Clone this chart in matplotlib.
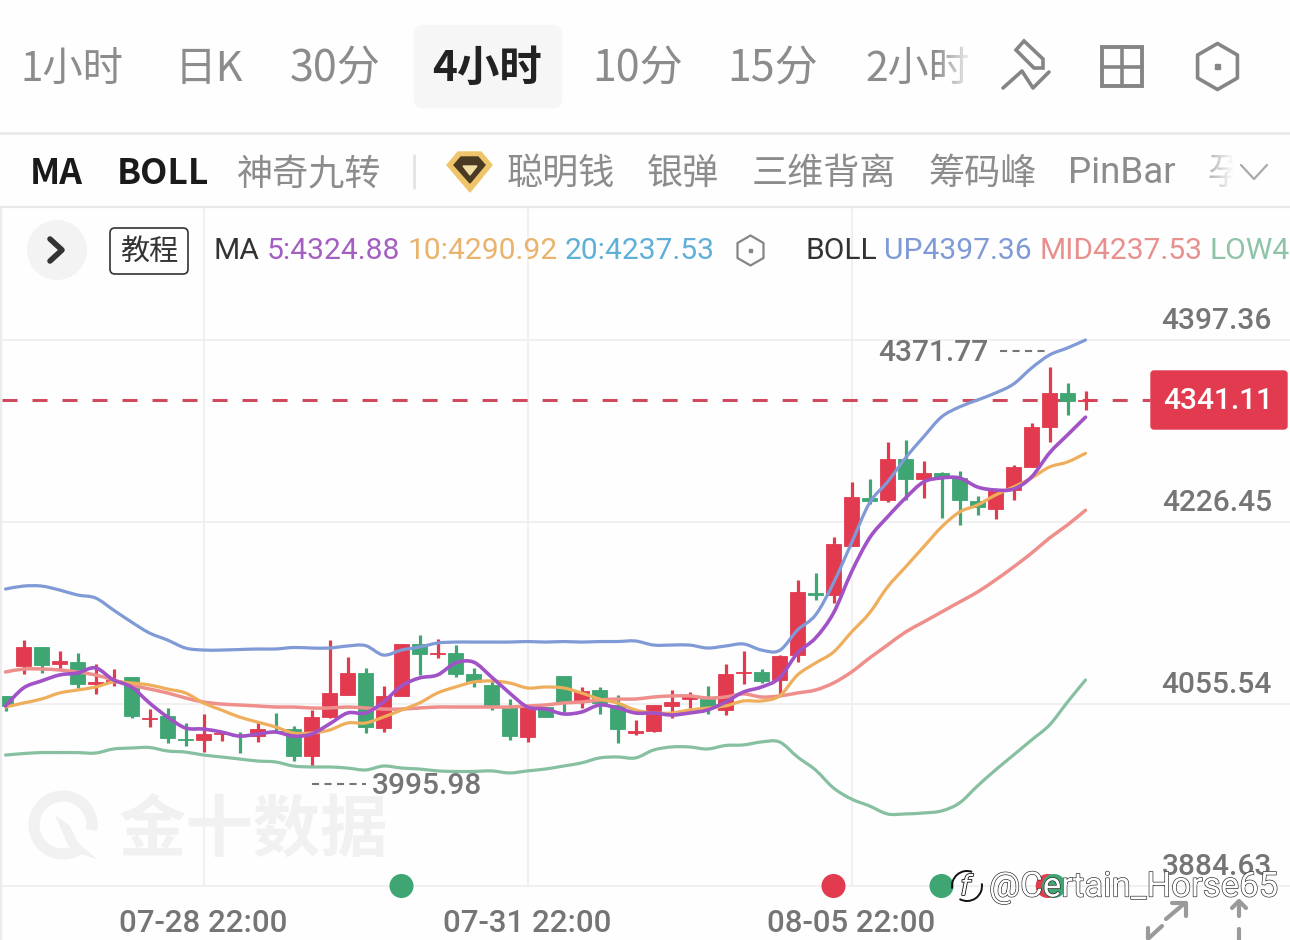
import numpy as np
import matplotlib
matplotlib.use('Agg')
import matplotlib.pyplot as plt
from matplotlib.patches import FancyBboxPatch, Circle, Polygon, Arc, Rectangle, PathPatch
from matplotlib.path import Path
import matplotlib.patheffects as pe

plt.rcParams['font.family'] = ['Noto Sans CJK SC', 'DejaVu Sans']

# candles
open_ = [4063.1, 4091.2, 4109.0, 4093.0, 4094.9, 4074.3, 4076.2, 4080.9, 4041.5, 4044.3,
         4022.6, 4021.7, 4027.3, 4026.4, 4025.4, 4030.1, 4032.0, 4006.7, 4043.3, 4064.0,
         4084.6, 4033.0, 4063.1, 4111.9, 4102.4, 4103.4, 4083.7, 4073.4, 4053.7, 4024.5,
         4052.7, 4081.8, 4057.4, 4068.7, 4054.6, 4028.3, 4030.1, 4053.7, 4060.2, 4060.2,
         4049.9, 4084.6, 4085.6, 4078.1, 4101.5, 4159.8, 4157.9, 4203.9, 4249.0, 4247.1,
         4285.6, 4266.8, 4272.5, 4267.8, 4246.2, 4238.6, 4256.5, 4278.1, 4315.7, 4347.6,
         4340.1]
high = [4063.1, 4115.6, 4109.0, 4105.3, 4103.4, 4093.0, 4088.4, 4080.9, 4050.8, 4051.8,
        4037.7, 4046.2, 4029.2, 4029.2, 4038.6, 4047.1, 4034.9, 4049.9, 4115.6, 4099.7,
        4089.4, 4072.5, 4111.9, 4120.3, 4116.5, 4110.9, 4089.4, 4078.1, 4060.2, 4053.7,
        4052.7, 4081.8, 4071.5, 4071.5, 4064.0, 4040.5, 4054.6, 4068.7, 4066.8, 4072.5,
        4093.0, 4105.3, 4088.4, 4101.5, 4172.0, 4178.5, 4212.3, 4264.0, 4266.9, 4301.6,
        4303.5, 4283.8, 4273.5, 4274.4, 4250.9, 4257.4, 4280.0, 4319.4, 4371.77, 4357.0,
        4349.4]
low = [4049.0, 4083.7, 4084.7, 4088.4, 4070.6, 4065.0, 4072.5, 4042.4, 4034.0, 4018.9,
       4016.1, 4010.4, 4020.8, 4009.5, 4019.8, 4028.3, 4002.0, 3995.98, 4042.4, 4064.0,
       4028.3, 4029.2, 4063.1, 4082.8, 4098.7, 4080.9, 4071.5, 4049.9, 4021.7, 4019.8,
       4043.3, 4048.0, 4051.8, 4046.2, 4018.9, 4026.4, 4029.2, 4042.4, 4051.8, 4046.2,
       4045.2, 4074.3, 4075.3, 4064.0, 4094.9, 4153.2, 4150.4, 4203.9, 4243.4, 4245.2,
       4247.1, 4249.0, 4230.2, 4223.7, 4233.0, 4229.3, 4247.1, 4278.1, 4301.6, 4327.0,
       4331.6]
close = [4053.7, 4109.0, 4092.1, 4095.9, 4074.3, 4076.2, 4078.1, 4044.3, 4042.4, 4023.6,
         4021.7, 4027.3, 4028.3, 4025.4, 4032.0, 4029.2, 4006.7, 4043.3, 4065.9, 4084.6,
         4034.0, 4063.1, 4111.9, 4102.4, 4103.4, 4083.7, 4076.2, 4054.6, 4025.4, 4053.7,
         4043.3, 4057.4, 4067.8, 4056.5, 4032.0, 4030.1, 4054.6, 4057.4, 4062.1, 4051.8,
         4083.7, 4085.6, 4077.2, 4100.6, 4160.7, 4157.9, 4205.8, 4249.9, 4246.2, 4285.6,
         4266.8, 4272.5, 4267.8, 4247.1, 4240.5, 4256.5, 4278.1, 4315.7, 4347.6, 4340.1,
         4341.11]

# indicator lines
boll_up = [4163.5, 4166.3, 4166.3, 4162.6, 4157.9, 4155.1, 4143.8, 4132.5, 4122.2, 4115.6,
           4108.1, 4106.2, 4106.2, 4106.7, 4107.2, 4107.2, 4108.6, 4108.1, 4108.1, 4110.0,
           4110.4, 4101.5, 4106.2, 4109.0, 4112.8, 4113.7, 4113.7, 4113.7, 4113.7, 4114.2,
           4113.7, 4114.2, 4113.7, 4114.2, 4114.2, 4114.7, 4110.9, 4110.9, 4110.9, 4108.1,
           4110.0, 4111.9, 4106.2, 4105.8, 4125.0, 4139.1, 4169.2, 4206.7, 4244.3, 4264.0,
           4286.6, 4306.3, 4325.1, 4334.5, 4341.0, 4347.6, 4356.0, 4371.0, 4383.3, 4389.9,
           4397.36]
boll_mid = [4085.6, 4088.4, 4088.4, 4087.5, 4085.6, 4082.8, 4078.1, 4073.4, 4069.6, 4065.9,
            4061.2, 4057.4, 4055.5, 4054.6, 4053.7, 4052.7, 4052.7, 4051.8, 4051.8, 4052.7,
            4051.8, 4050.8, 4050.8, 4051.8, 4052.7, 4052.7, 4052.7, 4052.7, 4052.7, 4053.7,
            4054.6, 4056.5, 4057.4, 4059.3, 4060.2, 4060.2, 4062.1, 4063.1, 4063.1, 4061.2,
            4062.1, 4065.0, 4062.1, 4063.1, 4065.9, 4068.7, 4075.3, 4085.6, 4098.7, 4110.9,
            4123.1, 4132.5, 4141.9, 4151.3, 4160.7, 4172.0, 4184.2, 4197.2, 4211.4, 4223.7,
            4237.53]
boll_low = [4007.6, 4009.0, 4009.9, 4009.9, 4009.9, 4009.5, 4013.3, 4014.2, 4014.7, 4011.4,
            4010.4, 4007.6, 4005.8, 4003.9, 4002.0, 4001.1, 3997.3, 3996.4, 3996.4, 3995.4,
            3993.6, 3997.3, 3995.4, 3994.5, 3992.7, 3992.2, 3992.2, 3992.7, 3990.8, 3992.7,
            3994.5, 3997.3, 4000.2, 4004.9, 4005.8, 4004.9, 4012.3, 4015.2, 4015.2, 4013.3,
            4016.6, 4017.1, 4019.9, 4019.9, 4005.8, 3993.6, 3976.7, 3966.3, 3959.8, 3952.3,
            3952.3, 3953.2, 3955.1, 3962.6, 3978.6, 3993.6, 4007.6, 4021.7, 4035.8, 4057.4,
            4078.1]
ma5 = [4053.7, 4070.6, 4077.2, 4082.8, 4084.7, 4089.4, 4078.1, 4071.5, 4056.5, 4043.3,
       4033.0, 4032.0, 4029.2, 4025.4, 4027.3, 4029.2, 4025.4, 4027.3, 4036.8, 4047.1,
       4047.1, 4057.4, 4072.5, 4080.0, 4082.8, 4094.0, 4094.9, 4080.9, 4065.9, 4052.7,
       4050.8, 4046.2, 4048.0, 4054.6, 4051.8, 4047.1, 4047.1, 4045.2, 4047.1, 4049.9,
       4057.4, 4066.8, 4071.5, 4080.0, 4103.4, 4117.5, 4141.0, 4179.5, 4211.4, 4231.2,
       4249.0, 4264.0, 4267.8, 4267.8, 4259.3, 4256.5, 4257.4, 4268.7, 4291.3, 4308.2,
       4324.88]
ma10 = [4052.7, 4056.5, 4060.2, 4065.9, 4068.7, 4071.5, 4076.2, 4075.3, 4073.4, 4069.6,
        4065.9, 4056.5, 4049.9, 4043.3, 4038.6, 4034.0, 4028.3, 4028.3, 4031.1, 4037.7,
        4037.7, 4043.3, 4049.9, 4056.5, 4065.9, 4071.5, 4076.2, 4077.2, 4075.3, 4070.6,
        4071.5, 4070.6, 4065.9, 4060.2, 4056.5, 4049.9, 4047.1, 4047.1, 4049.9, 4051.8,
        4053.7, 4058.4, 4058.4, 4063.1, 4082.8, 4094.0, 4104.3, 4123.1, 4141.0, 4165.4,
        4184.2, 4203.0, 4221.7, 4235.8, 4242.4, 4251.8, 4259.3, 4267.8, 4278.1, 4282.8,
        4290.92]

y_ticks = [4397.36, 4226.45, 4055.54, 3884.63]
x_ticks = [11, 29, 47]
x_labels = ['07-28 22:00', '07-31 22:00', '08-05 22:00']
event_x = [22, 46, 52, 57.9, 58.25]
event_up = [False, True, False, True, False]

RED = '#E23B50'
GREEN = '#3FA673'
GRID = '#EEEEEE'
GREY = '#757575'
TAB = '#8C8C8C'
NUM = ['Roboto', 'DejaVu Sans']
UI = ['Roboto', 'Noto Sans CJK SC', 'DejaVu Sans']

fig = plt.figure(figsize=(12.9, 9.4), dpi=100, facecolor='#FEFEFE')

# chart area: one candle every 18 px, 170.91 in price every 182 px
k = 170.91 / 182
ax = fig.add_axes([0, 0, 1, 732 / 940])
ax.set_xlim((0 - 5.5) / 18, (1290 - 5.5) / 18)
ax.set_ylim(4397.36 - 600 * k, 4397.36 + 132 * k)
ax.axis('off')

for p in y_ticks:
    ax.axhline(p, color=GRID, lw=1.2, zorder=1)
for i in x_ticks:
    ax.axvline(i, ymin=(940 - 886) / 732, color=GRID, lw=1.2, zorder=1)

n = len(close)
xs = np.arange(n)
o, h, l, c = map(np.array, (open_, high, low, close))
colors = [RED if c[i] >= o[i] else GREEN for i in range(n)]
ax.vlines(xs, l, h, colors=colors, lw=2.3, zorder=3)
ax.bar(xs, np.abs(c - o), bottom=np.minimum(o, c), width=0.82, color=colors,
       edgecolor=colors, lw=0.6, zorder=4)

ax.plot([(2 - 5.5) / 18, (1150 - 5.5) / 18], [close[-1], close[-1]], color='#CE4A5C', lw=2.2,
        dashes=(4.91, 4.91), zorder=2)


def smooth_line(values, color, lw, zorder):
    # the chart's lines are drawn as soft curves through the points
    pts = np.c_[xs, values]
    verts = [pts[0]]
    for i in range(n - 1):
        before = pts[max(i - 1, 0)]
        after = pts[min(i + 2, n - 1)]
        verts += [pts[i] + (pts[i + 1] - before) / 6, pts[i + 1] - (after - pts[i]) / 6, pts[i + 1]]
    codes = [Path.MOVETO] + [Path.CURVE4] * (3 * (n - 1))
    ax.add_patch(PathPatch(Path(verts, codes), fill=False, edgecolor=color, lw=lw, capstyle='round',
                           zorder=zorder))


smooth_line(boll_up, '#7F9AD6', 2.3, 5)
smooth_line(boll_low, '#86C0A0', 2.3, 5)
smooth_line(boll_mid, '#EE8F8C', 2.5, 5)
smooth_line(ma10, '#EFAE5C', 2.3, 6)
smooth_line(ma5, '#A052C6', 2.6, 7)

# high / low notes
i_hi = int(np.argmax(h))
i_lo = int(np.argmin(l))
ax.annotate(f'{h[i_hi]:.2f}', xy=(i_hi, h[i_hi]), xytext=(-61, 14), textcoords='offset pixels',
            ha='right', va='center', fontsize=21.5, color=GREY, family=NUM, weight='medium')
ax.plot([i_hi - 2.75, i_hi - 0.25], [h[i_hi] + 15, h[i_hi] + 15], color=GREY, lw=1.5,
        dashes=(3.4, 2.6), zorder=4)
ax.annotate(f'{l[i_lo]:.2f}', xy=(i_lo, l[i_lo]), xytext=(60, -19), textcoords='offset pixels',
            ha='left', va='center', fontsize=21.5, color=GREY, family=NUM, weight='medium')
ax.plot([i_lo, i_lo + 3], [l[i_lo] - 16, l[i_lo] - 16], color=GREY, lw=1.5,
        dashes=(3.4, 2.6), zorder=4)

for p in y_ticks:
    ax.annotate(f'{p:.2f}', xy=(1, p), xycoords=('axes fraction', 'data'), xytext=(-18, 19),
                textcoords='offset pixels', ha='right', va='center', fontsize=21.5,
                color=GREY, family=NUM, weight='medium', zorder=9)
for i, s in zip(x_ticks, x_labels):
    ax.annotate(s, xy=(i, y_ticks[-1]), xytext=(0, -38), textcoords='offset pixels',
                ha='center', va='center', fontsize=22.5, color=GREY, family=NUM, weight='medium')

ax.scatter(event_x, [y_ticks[-1]] * len(event_x), s=300, linewidths=0, zorder=8,
           c=[RED if u else GREEN for u in event_up])

# everything around the chart, in picture pixels
ui = fig.add_axes([0, 0, 1, 1], facecolor='none')
ui.axis('off')


def label(x, y, s, size, color=TAB, weight='normal', family=None, ha='left', zorder=10):
    ui.text(x, y, s, fontsize=size, color=color, weight=weight, ha=ha, va='center',
            family=family if family else UI, zorder=zorder)


def stroke(xs_, ys_, color='#858585', lw=2.6, zorder=10):
    ui.plot(xs_, ys_, color=color, lw=lw, solid_capstyle='round', solid_joinstyle='round', zorder=zorder)


def hexagon(cx, cy, r, color='#858585', lw=2.6, dot=2.5):
    a = np.deg2rad(np.arange(30, 390, 60))
    ui.add_patch(Polygon(np.c_[cx + r * np.cos(a), cy + r * np.sin(a)], closed=True, fill=False,
                         edgecolor=color, lw=lw, joinstyle='round', zorder=10))
    ui.add_patch(Rectangle((cx - dot, cy - dot), 2 * dot, 2 * dot, color=color, zorder=10))


# top tabs
ui.add_patch(FancyBboxPatch((418, 29), 140, 75, boxstyle='round,pad=0,rounding_size=4',
                            fc='#F6F6F6', ec='#F6F6F6', lw=6, zorder=2))
for x, s, size in zip([20, 175, 290, 592, 727, 865], ['1小时', '日K', '30分', '10分', '15分', '2小时'],
                      [29, 30, 31, 31, 31, 29.5]):
    label(x, 69, s, size, color=TAB, family=['Noto Sans CJK SC', 'Roboto'])
label(432, 69, '4小时', 30.5, color='#222222', weight='bold', family=['Noto Sans CJK SC', 'Roboto'])

# fade at the right of the scrolling rows
fade = np.ones((1, 40, 4))
fade[0, :, :3] = 254 / 255
fade[0, :, 3] = np.linspace(0, 1, 40)
ui.imshow(fade, extent=(935, 975, 110, 25), aspect='auto', zorder=11)
ui.imshow(fade, extent=(1205, 1234, 145, 205), aspect='auto', zorder=11)
ui.add_patch(Rectangle((1234, 145), 14, 60, fc='#FEFEFE', ec='none', zorder=11))

# drawing tool, layout and settings icons
stroke([1003, 1022, 1033, 1049], [88, 71, 88, 72])
ui.add_patch(Polygon([[1024, 41], [1043, 59], [1043, 68], [1034, 68], [1016, 50]], closed=True,
                     fill=False, edgecolor='#858585', lw=2.6, zorder=10))
ui.add_patch(Rectangle((1102, 47), 40, 39, fill=False, edgecolor='#858585', lw=2.8, zorder=10))
stroke([1122, 1122], [47, 86], lw=2.6)
stroke([1102, 1142], [67, 67], lw=2.6)
hexagon(1217.5, 66.5, 23)

# dividers
stroke([0, 1290], [133, 133], color='#E9E9E9', lw=2)
stroke([0, 1290], [207, 207], color='#E9E9E9', lw=1.6)
stroke([1, 1], [208, 940], color='#ECECEC', lw=1.6)
stroke([414, 414], [155, 188], color='#E3E3E3', lw=2)

# indicator row
label(30, 174, 'MA', 25.5, color='#1A1A1A', weight='bold', family=['Noto Sans CJK SC'])
label(117, 174, 'BOLL', 25.5, color='#1A1A1A', weight='bold', family=['Noto Sans CJK SC'])
for x, s in zip([237, 507, 647, 752, 928], ['神奇九转', '聪明钱', '银弹', '三维背离', '筹码峰']):
    label(x, 174, s, 26, family=['Noto Sans CJK SC', 'Roboto'])
label(1068, 173, 'PinBar', 26.5, family=['Roboto', 'Noto Sans CJK SC'])
label(1207, 174, '孕', 26, color='#A8A8A8', family=['Noto Sans CJK SC'])
stroke([1241, 1254, 1267], [165, 179, 165], color='#AAAAAA', lw=1.6, zorder=12)

# gold diamond
ui.add_patch(Polygon([[447, 165], [458, 152], [481, 152], [492, 165], [470, 192]], closed=True,
                     fc='#EFC56B', ec='#EFC56B', lw=1, zorder=10))
ui.add_patch(Polygon([[454, 165], [461, 157], [478, 157], [485, 165], [470, 183]], closed=True,
                     fc='#4A3A24', ec='#4A3A24', lw=1, zorder=11))
ui.add_patch(Polygon([[463, 166], [477, 166], [470, 175]], closed=True, fc='#F3DDA6', ec='#F3DDA6',
                     lw=1, zorder=12))

# info row
ui.add_patch(Circle((57, 250), 30, fc='#F3F3F3', ec='none', zorder=3))
stroke([50, 62, 50], [239, 250, 261], color='#333333', lw=4)
ui.add_patch(FancyBboxPatch((110, 228), 78, 46, boxstyle='round,pad=0,rounding_size=5', fc='none',
                            ec='#333333', lw=1.2, zorder=10))
label(149, 252, '教程', 21, color='#333333', ha='center', family=['Noto Sans CJK SC'])
label(213, 251, 'MA', 21.6, color='#333333')
label(267, 251, '5:4324.88', 21.6, color='#A45FC2')
label(407, 251, '10:4290.92', 21.6, color='#E9B36D')
label(565, 251, '20:4237.53', 21.6, color='#5FB0D6')
hexagon(750.5, 250.5, 15, lw=1.6, dot=1.5)
label(806, 251, 'BOLL', 21.6, color='#333333')
label(884, 251, 'UP4397.36', 21.6, color='#7F9AD6')
label(1040, 251, 'MID4237.53', 21.6, color='#E8908E')
label(1209, 251, 'LOW4', 21.6, color='#8FC3A7')

# current price tag
ui.add_patch(FancyBboxPatch((1151, 371), 136, 58, boxstyle='round,pad=0,rounding_size=3', fc=RED,
                            ec=RED, lw=1, zorder=9))
ui.text(1218, 401, f'{close[-1]:.2f}', fontsize=21.5, color='white', ha='center', va='center',
        family=NUM, weight='medium', zorder=10)

# 金十数据 watermark
label(119, 831, '金十数据', 48.5, color='#F1F1F1', weight='bold', family=['Noto Sans CJK SC'], zorder=1)
ui.add_patch(Arc((63, 825), 58, 58, theta1=50, theta2=370, color='#F1F1F1', lw=8, zorder=1))
ui.add_patch(Polygon([[55, 815], [70, 826], [78, 843], [97, 859], [78, 853], [68, 845]], closed=True,
                     fc='#F1F1F1', ec='none', zorder=1))

# re-post watermark, white letters with a dark rim
ui.text(989, 887, '@Certain_Horse65', fontsize=25, color='white', ha='left', va='center',
        family=['Roboto'], zorder=14,
        path_effects=[pe.withStroke(linewidth=0.9, foreground='#222222')])
ui.add_patch(Arc((967, 886), 30, 30, theta1=-10, theta2=120, color='#111111', lw=1.4, zorder=14))
ui.add_patch(Arc((967, 886), 30, 30, theta1=170, theta2=290, color='#111111', lw=1.4, zorder=14))
ui.text(965, 887, 'f', fontsize=20, color='white', ha='center', va='center', style='italic',
        family=['DejaVu Sans'], zorder=14,
        path_effects=[pe.withStroke(linewidth=1.2, foreground='#111111')])

# zoom and scale arrows, bottom right
stroke([1166, 1185], [919, 903], color='#9A9A9A', lw=3)
stroke([1172, 1186, 1186], [903, 903, 916], color='#9A9A9A', lw=3)
stroke([1149, 1162], [938, 926], color='#9A9A9A', lw=3)
stroke([1148, 1148], [928, 939], color='#9A9A9A', lw=3)
stroke([1239, 1239], [902, 916], color='#9A9A9A', lw=3)
stroke([1232, 1239, 1246], [908, 901, 908], color='#9A9A9A', lw=3)
stroke([1239, 1239], [929, 940], color='#9A9A9A', lw=3)

ui.set_xlim(0, 1290)
ui.set_ylim(940, 0)

fig.savefig('out.png', dpi=100, facecolor=fig.get_facecolor())
